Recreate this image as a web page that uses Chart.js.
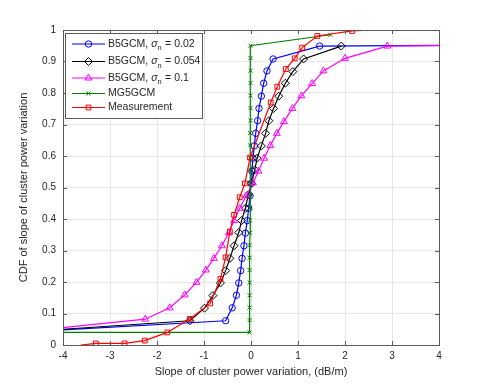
<!DOCTYPE html>
<html>
<head>
<meta charset="utf-8">
<script src="https://cdn.jsdelivr.net/npm/chart.js@4.4.1/dist/chart.umd.min.js"></script>
<style>
html,body{margin:0;padding:0;background:#fff;}
#wrap{width:485px;height:388px;position:relative;}
</style>
</head>
<body>
<div id="wrap"><canvas id="c" width="485" height="388"></canvas></div>
<script>
// ---- data ----
const xTickLabels = ['-4','-3','-2','-1','0','1','2','3','4'];
const yTickLabels = ['0','0.1','0.2','0.3','0.4','0.5','0.6','0.7','0.8','0.9','1'];

const seriesNames = ['B5GCM, \u03C3|n| = 0.02', 'B5GCM, \u03C3|n| = 0.054', 'B5GCM, \u03C3|n| = 0.1', 'MG5GCM', 'Measurement'];

const xB002 = [-5, -0.54, -0.40, -0.31, -0.26, -0.22, -0.19, -0.15, -0.12, -0.08, -0.05, -0.02, 0.00, 0.02, 0.04, 0.07, 0.10, 0.14, 0.17, 0.22, 0.27, 0.34, 0.47, 1.46, 5];
const yB002 = [0.04, 0.077, 0.118, 0.158, 0.197, 0.236, 0.275, 0.315, 0.355, 0.395, 0.434, 0.474, 0.513, 0.552, 0.593, 0.632, 0.672, 0.712, 0.751, 0.790, 0.831, 0.870, 0.908, 0.949, 0.952];

const xB0054 = [-5, -1.30, -0.99, -0.81, -0.65, -0.54, -0.45, -0.36, -0.26, -0.20, -0.12, -0.06, 0.01, 0.08, 0.13, 0.22, 0.31, 0.38, 0.48, 0.59, 0.73, 0.89, 1.12, 1.92];
const yB0054 = [0.04, 0.077, 0.117, 0.157, 0.197, 0.236, 0.275, 0.315, 0.357, 0.395, 0.434, 0.476, 0.513, 0.556, 0.593, 0.632, 0.672, 0.712, 0.751, 0.790, 0.831, 0.868, 0.908, 0.949];

const xB01 = [-5, -2.25, -1.73, -1.41, -1.16, -0.96, -0.79, -0.62, -0.47, -0.36, -0.24, -0.10, 0.04, 0.16, 0.28, 0.41, 0.55, 0.70, 0.88, 1.07, 1.30, 1.54, 2.00, 2.90, 5];
const yB01 = [0.04, 0.082, 0.118, 0.159, 0.199, 0.238, 0.275, 0.315, 0.356, 0.395, 0.434, 0.474, 0.514, 0.552, 0.593, 0.633, 0.672, 0.709, 0.751, 0.791, 0.830, 0.870, 0.910, 0.949, 0.952];

const xMG = [-5, -0.03, -0.03, -0.03, -0.03, -0.03, -0.03, -0.03, -0.03, -0.02, -0.02, -0.02, -0.02, -0.02, -0.02, -0.02, -0.02, -0.02, -0.01, -0.01, -0.01, -0.01, -0.01, -0.01, -0.01, 1.69];
const yMG = [0.04, 0.04, 0.079, 0.119, 0.158, 0.198, 0.238, 0.277, 0.317, 0.356, 0.396, 0.436, 0.475, 0.515, 0.554, 0.594, 0.634, 0.673, 0.713, 0.752, 0.792, 0.832, 0.871, 0.911, 0.950, 0.985];

const xMeas = [-3.62, -3.30, -2.69, -2.26, -1.78, -1.30, -0.87, -0.65, -0.54, -0.45, -0.36, -0.24, -0.13, -0.02, 0.42, 0.56, 0.74, 0.93, 1.09, 1.41, 2.15, 2.60];
const yMeas = [0, 0.005, 0.005, 0.014, 0.040, 0.083, 0.132, 0.210, 0.278, 0.360, 0.413, 0.469, 0.513, 0.595, 0.770, 0.820, 0.876, 0.910, 0.944, 0.981, 0.997, 1.0];

// ---- build ----
function pts(xs, ys){ return xs.map((x,i)=>({x:x, y:ys[i]})); }
const FONT = '"Liberation Sans", Arial, Helvetica, sans-serif';
const TXT = '#262626';

const styles = [
  {color:'#0000ff', pointStyle:'circle',   radius:3.2, order:5},
  {color:'#000000', pointStyle:'rectRot',  radius:4,   order:4},
  {color:'#ff00ff', pointStyle:'triangle', radius:4,   order:3},
  {color:'#008000', pointStyle:'crossRot', radius:2.8, order:2},
  {color:'#ff0000', pointStyle:'rect',     radius:3.4, order:1}
];
const seriesData = [pts(xB002,yB002), pts(xB0054,yB0054), pts(xB01,yB01), pts(xMG,yMG), pts(xMeas,yMeas)];

const datasets = seriesData.map((d,i)=>({
  label: seriesNames[i].replace(/\|/g,''),
  data: d,
  borderColor: styles[i].color,
  backgroundColor: 'rgba(0,0,0,0)',
  pointBorderColor: styles[i].color,
  pointBackgroundColor: 'rgba(0,0,0,0)',
  pointStyle: styles[i].pointStyle,
  pointRadius: (i===4) ? (ctx => (ctx.dataIndex===0 || ctx.dataIndex===xMeas.length-1) ? 0 : styles[i].radius) : styles[i].radius,
  pointBorderWidth: 1,
  borderWidth: 1.2,
  tension: 0,
  order: styles[i].order
}));

const frame = {
  id:'frame',
  afterDatasetsDraw(chart){
    const {ctx, chartArea:a, scales} = chart;
    ctx.save();
    ctx.strokeStyle = '#5a5a5a';
    ctx.lineWidth = 1;
    ctx.strokeRect(Math.round(a.left)+0.5, Math.round(a.top)+0.5, Math.round(a.right-a.left), Math.round(a.bottom-a.top));
    const tl = 4;
    ctx.beginPath();
    scales.x.ticks.forEach(t=>{
      const px = Math.round(scales.x.getPixelForValue(t.value))+0.5;
      ctx.moveTo(px, a.bottom); ctx.lineTo(px, a.bottom-tl);
      ctx.moveTo(px, a.top); ctx.lineTo(px, a.top+tl);
    });
    scales.y.ticks.forEach(t=>{
      const py = Math.round(scales.y.getPixelForValue(t.value))+0.5;
      ctx.moveTo(a.left, py); ctx.lineTo(a.left+tl, py);
      ctx.moveTo(a.right, py); ctx.lineTo(a.right-tl, py);
    });
    ctx.stroke();
    ctx.restore();
  },
  afterDraw(chart){
    const ctx = chart.ctx;
    ctx.save();
    const bx = 65.5, by = 33.5, bw = 137, bh = 85;
    ctx.fillStyle = '#fff';
    ctx.fillRect(bx, by, bw, bh);
    ctx.strokeStyle = '#5a5a5a';
    ctx.lineWidth = 1;
    ctx.strokeRect(bx, by, bw, bh);
    const rows = [44, 61.5, 78, 93.5, 107.5];
    const lx0 = 72, lx1 = 105, tx = 108;
    rows.forEach((ry,i)=>{
      const st = styles[i];
      ctx.strokeStyle = st.color;
      ctx.lineWidth = 1.2;
      ctx.beginPath(); ctx.moveTo(lx0, ry); ctx.lineTo(lx1, ry); ctx.stroke();
      ctx.fillStyle = 'rgba(0,0,0,0)';
      ctx.lineWidth = 1;
      Chart.helpers.drawPoint(ctx, {pointStyle: st.pointStyle, radius: st.radius, rotation:0, borderWidth:1}, (lx0+lx1)/2, ry);
      ctx.fillStyle = TXT;
      ctx.textBaseline = 'middle';
      ctx.textAlign = 'left';
      const parts = seriesNames[i].split('|');
      let x = tx;
      parts.forEach((p,k)=>{
        if (k===1) {
          ctx.font = '7.5px ' + FONT;
          ctx.fillText(p, x, ry+4);
          x += ctx.measureText(p).width + 0.5;
        } else if (k===0 && p.indexOf('\u03C3')>=0) {
          ctx.font = '10.5px ' + FONT;
          const pre = p.slice(0, p.indexOf('\u03C3'));
          ctx.fillText(pre, x, ry); x += ctx.measureText(pre).width;
          ctx.font = 'italic 10.5px ' + FONT;
          ctx.fillText('\u03C3', x, ry); x += ctx.measureText('\u03C3').width;
        } else {
          ctx.font = '10.5px ' + FONT;
          ctx.fillText(p, x, ry); x += ctx.measureText(p).width;
        }
      });
    });
    ctx.restore();
  }
};

new Chart(document.getElementById('c'), {
  type: 'line',
  data: { datasets },
  plugins: [frame],
  options: {
    responsive: false,
    animation: false,
    layout: { padding: { top: 30, right: 46, left: 0, bottom: 0 } },
    plugins: { legend: { display: false }, tooltip: { enabled: false } },
    scales: {
      x: {
        type: 'linear', min: -4, max: 4,
        afterFit(s){ s.height = 43; },
        ticks: { stepSize: 1, color: TXT, font: { family: FONT, size: 10 }, padding: 5, maxRotation: 0,
                 callback: (v) => xTickLabels[Math.round(v)+4] },
        grid: { color: '#e6e6e6', lineWidth: 1, drawTicks: false },
        border: { display: false },
        title: { display: true, text: 'Slope of cluster power variation, (dB/m)', color: TXT,
                 font: { family: FONT, size: 11 }, padding: { top: 0, bottom: 9.5 } }
      },
      y: {
        type: 'linear', min: 0, max: 1,
        afterFit(s){ s.width = 63; },
        ticks: { stepSize: 0.1, color: TXT, font: { family: FONT, size: 10 }, padding: 7,
                 callback: (v) => yTickLabels[Math.round(v*10)] },
        grid: { color: '#e6e6e6', lineWidth: 1, drawTicks: false },
        border: { display: false },
        title: { display: true, text: 'CDF of slope of cluster power variation', color: TXT,
                 font: { family: FONT, size: 11 }, padding: { top: 17, bottom: 0 } }
      }
    }
  }
});
</script>
</body>
</html>
